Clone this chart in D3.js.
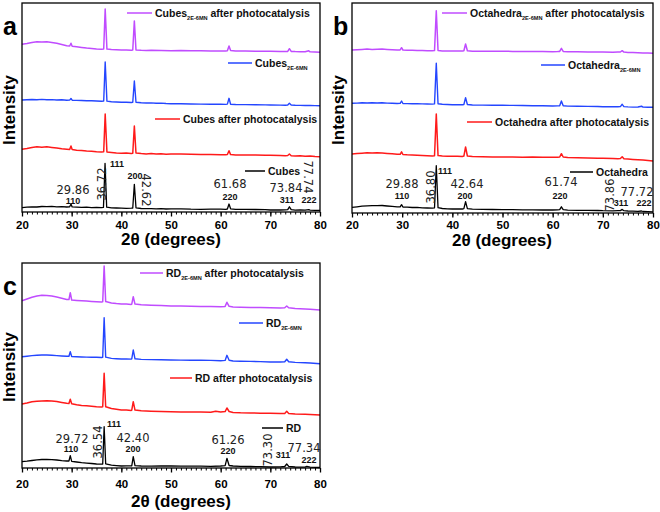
<!DOCTYPE html>
<html><head><meta charset="utf-8">
<script src="https://cdn.jsdelivr.net/npm/d3@7"></script>
<style>body{margin:0;background:#fff}svg{display:block}</style>
</head><body><svg id="c" width="660" height="512"></svg>
<script>
// ---------------- DATA ----------------
const xTicks = [20, 30, 40, 50, 60, 70, 80];

// Panel a : Cubes (2θ, intensity a.u.)
const cubesBare = [[20,4.3],[21,4.8],[22,5.2],[23,5.0],[24,5.5],[25,5.3],[26,5.6],[27,5.1],[28,5.4],[29,5.0],[29.6,5.2],[29.86,8],[30.1,5.1],[31,4.9],[32,4.6],[33,4.8],[34,4.4],[35,4.5],[36,4.3],[36.4,4.6],[36.72,48.7],[37.05,4.8],[38,4.2],[39,4.0],[40,3.9],[41,3.7],[42,3.9],[42.3,4.0],[42.62,27.7],[42.95,4.2],[44,3.5],[45,3.3],[46,3.4],[47,3.1],[48,3.3],[49,3.0],[50,3.1],[52,3.2],[54,2.8],[56,2.7],[58,2.8],[60,2.9],[61,2.7],[61.35,3.0],[61.68,8],[62.0,3.2],[63,2.6],[65,2.6],[67,2.5],[69,2.3],[70,2.0],[72,2.0],[73,2.1],[73.5,2.3],[73.84,5.2],[74.2,2.3],[75,1.9],[76,2.0],[77,1.8],[77.74,2.4],[78,1.9],[79,1.6],[80,1.7]];
const cubesAfter = [[20,62.7],[21,63.5],[22,64.5],[23,65.2],[24,64.8],[25,65.3],[26,64.6],[27,64.0],[28,63.2],[29,62.8],[29.6,62.5],[29.86,66],[30.1,62.4],[31,61.8],[32,61.5],[33,61.0],[34,60.8],[35,60.3],[36,60.0],[36.45,60.2],[36.75,98],[37.1,60.1],[38,59.6],[39,59.0],[40,58.7],[41,58.9],[42,58.5],[42.3,58.8],[42.62,86],[42.95,59],[44,58.4],[45,58.1],[46,58.4],[47,57.9],[48,58.2],[49,57.8],[50,58.0],[52,57.9],[54,57.7],[56,57.6],[58,57.5],[60,57.3],[61,57.2],[61.35,57.5],[61.68,61.3],[62.0,57.4],[63,57.0],[65,57.1],[67,56.9],[69,56.8],[70,56.7],[72,56.6],[73,56.2],[73.5,56.5],[73.84,58],[74.2,56.3],[75,56.0],[76,56.2],[77,55.8],[78,56.1],[79,55.5],[80,55.3]];
const cubes2E = [[20,112],[21,112.2],[22,112.5],[23,112.3],[24,112.6],[25,112.3],[26,112.4],[27,112.0],[28,112.2],[29,111.8],[29.6,111.9],[29.86,113.5],[30.1,111.8],[31,111.6],[32,111.5],[33,111.2],[34,111.3],[35,111.0],[36,110.8],[36.45,111],[36.75,150],[37.1,110.9],[38,110.3],[39,110.0],[40,109.7],[41,109.8],[42,109.5],[42.3,109.7],[42.62,131],[42.95,109.8],[44,109.2],[45,109.0],[46,109.1],[47,108.8],[48,108.9],[49,108.5],[50,108.3],[52,108.2],[54,108.0],[56,107.9],[58,107.8],[60,107.7],[61,107.6],[61.35,107.9],[61.68,113.7],[62.0,107.8],[63,107.5],[65,107.4],[67,107.2],[69,107.1],[70,107.0],[72,106.9],[73,106.8],[73.5,107],[73.84,108.7],[74.2,107],[75,106.7],[76,106.6],[77,106.5],[78,106.5],[79,106.4],[80,106.3]];
const cubes2EAfter = [[20,167.7],[21,168.5],[22,169.5],[23,170.2],[24,170.0],[25,170.3],[26,169.6],[27,168.8],[28,167.5],[29,166.2],[29.6,166],[29.86,168.7],[30.1,165.8],[31,165.2],[32,164.6],[33,164.0],[34,163.6],[35,163.0],[36,162.8],[36.45,163],[36.75,203],[37.1,162.9],[38,162.5],[39,162.2],[40,162.0],[41,162.1],[42,161.8],[42.3,162],[42.62,191],[42.95,162.1],[44,161.7],[45,161.6],[46,161.7],[48,161.5],[50,161.3],[52,161.4],[54,161.2],[56,161.3],[58,161.1],[60,161.0],[61,161.1],[61.35,161.3],[61.68,166],[62.0,161.4],[63,161.0],[65,160.9],[67,160.8],[69,160.8],[70,160.7],[72,160.6],[73,160.5],[73.5,160.6],[73.84,163.3],[74.2,160.6],[75,160.4],[76,160.3],[77,160.2],[77.74,161.2],[78,160.2],[79,159.9],[80,159.7]];

// Panel b : Octahedra
const octBare = [[20,5.7],[21,6.2],[22,6.8],[23,7.2],[24,7.4],[25,7.3],[26,7.5],[27,7.0],[28,6.6],[29,6.2],[29.6,6.1],[29.88,8.3],[30.15,6.0],[31,5.8],[32,5.5],[33,5.6],[34,5.2],[35,5.0],[36,4.9],[36.45,5.2],[36.80,47.3],[37.15,5.3],[38,4.5],[39,4.2],[40,4.0],[41,4.1],[42,4.0],[42.3,4.3],[42.64,11.3],[43.0,4.4],[44,3.8],[46,3.6],[48,3.5],[50,3.3],[52,3.4],[54,3.1],[56,3.2],[58,3.0],[60,3.0],[61,3.1],[61.4,3.3],[61.74,6.2],[62.1,3.3],[63,2.9],[65,2.7],[67,2.6],[69,2.5],[70,2.3],[72,2.2],[73,2.3],[73.5,2.4],[73.86,3.6],[74.2,2.3],[75,2.0],[76,1.8],[77,1.6],[77.72,2.0],[78,1.5],[79,1.3],[80,1.1]];
const octAfter = [[20,59],[21,59.5],[22,59.8],[23,60.2],[24,60],[25,60.3],[26,60.1],[27,59.6],[28,59.2],[29,58.8],[29.6,58.7],[29.88,61.2],[30.15,58.5],[31,58.2],[32,58.0],[33,57.8],[34,57.5],[35,57.3],[36,57.1],[36.45,57.3],[36.8,99],[37.15,57.4],[38,56.9],[39,56.8],[40,56.7],[41,56.8],[42,56.6],[42.3,56.9],[42.64,66],[43.0,57],[44,56.4],[46,56.2],[48,56.1],[50,56.0],[52,55.9],[54,55.8],[56,55.9],[58,55.7],[60,55.7],[61,55.8],[61.4,56],[61.74,59.3],[62.1,56],[63,55.4],[65,55.2],[67,55.0],[69,54.8],[70,54.7],[72,54.4],[73,54.3],[73.5,54.4],[73.86,56.3],[74.2,54.3],[75,54.0],[76,53.6],[77,53.2],[78,52.9],[79,52.5],[80,52]];
const oct2E = [[20,109.7],[21,109.9],[22,110.2],[23,110.0],[24,110.3],[25,110.0],[26,110.2],[27,109.9],[28,109.8],[29,109.5],[29.6,109.6],[29.88,112],[30.15,109.5],[31,109.4],[32,109.3],[33,109.2],[34,109.1],[35,109.0],[36,108.9],[36.45,109.1],[36.8,149.7],[37.15,109.2],[38,108.7],[39,108.5],[40,108.3],[41,108.4],[42,108.2],[42.3,108.5],[42.64,115.3],[43.0,108.5],[44,108.0],[46,107.9],[48,107.8],[50,107.7],[52,107.6],[54,107.5],[56,107.3],[58,107.2],[60,107.0],[61,107.1],[61.4,107.2],[61.74,112],[62.1,107.2],[63,106.9],[65,106.8],[67,106.6],[69,106.5],[70,106.3],[72,106.2],[73,106.3],[73.5,106.4],[73.86,108.7],[74.2,106.4],[75,106.1],[76,105.9],[77,106.0],[77.72,106.8],[78,105.9],[79,105.8],[80,105.7]];
const oct2EAfter = [[20,163],[21,163.3],[22,163.6],[23,163.9],[24,163.6],[25,163.7],[26,163.9],[27,163.5],[28,163.2],[29,163.0],[29.6,163.1],[29.88,165.3],[30.15,163],[31,162.8],[32,162.7],[33,162.6],[34,162.4],[35,162.3],[36,162.2],[36.45,162.4],[36.8,202.3],[37.15,162.5],[38,162.1],[39,162.0],[40,162.0],[41,162.1],[42,161.9],[42.3,162.2],[42.64,169],[43.0,162.2],[44,161.8],[46,161.7],[48,161.8],[50,161.7],[52,161.6],[54,161.5],[56,161.5],[58,161.4],[60,161.3],[61,161.4],[61.4,161.6],[61.74,164.7],[62.1,161.6],[63,161.3],[65,161.2],[67,161.1],[69,161.0],[70,161.0],[72,160.8],[73,160.9],[73.5,161],[73.86,162.3],[74.2,160.9],[75,160.6],[76,160.4],[77,160.3],[78,160.1],[79,159.9],[80,159.7]];

// Panel c : Rhombic dodecahedra
const rdBare = [[20,6.3],[21,6.8],[22,7.5],[23,8.2],[24,8.5],[25,8.7],[26,8.4],[27,8.0],[28,7.4],[29,7.0],[29.45,7.0],[29.72,12.3],[30.0,6.6],[31,6.0],[32,5.3],[33,4.9],[34,4.5],[35,4.0],[36,3.8],[36.25,4.0],[36.54,41.3],[36.85,4.2],[38,2.8],[39,2.4],[40,2.0],[41,2.2],[42,2.1],[42.1,2.2],[42.40,11.3],[42.75,2.4],[44,2.0],[46,1.9],[48,2.0],[50,2.0],[52,1.8],[54,1.9],[56,1.8],[58,1.7],[60,2.0],[60.9,2.3],[61.26,9.7],[61.7,2.5],[62.5,2.0],[64,1.6],[66,1.5],[68,1.4],[70,1.0],[72,1.2],[72.9,1.5],[73.3,4.0],[73.7,1.6],[75,1.0],[77,0.9],[77.34,1.6],[78,0.8],[80,0.5]];
const rdAfter = [[20,64],[21,65],[22,66.2],[23,66.8],[24,67.0],[25,67.3],[26,67.0],[27,66.5],[28,65.6],[29,64.8],[29.45,64.6],[29.72,68.7],[30.0,64.2],[31,63.2],[32,62.6],[33,62.2],[34,61.8],[35,61.3],[36,61.0],[36.25,61.2],[36.54,94.7],[36.85,61.3],[38,59.5],[39,58.7],[40,58.0],[41,57.9],[42,57.6],[42.1,57.8],[42.40,66.3],[42.75,57.9],[44,57.2],[46,56.8],[48,56.5],[50,56.3],[52,56.1],[54,56.0],[56,55.9],[58,55.8],[59,56.8],[60,55.9],[60.9,56.4],[61.26,60],[61.7,56.5],[62.5,55.6],[64,55.2],[66,55.0],[68,54.8],[70,54.7],[72,54.4],[72.9,54.6],[73.3,56.7],[73.7,54.6],[75,54.0],[77,53.7],[78,53.5],[80,53]];
const rd2E = [[20,111.3],[21,111.8],[22,112.4],[23,112.8],[24,113.0],[25,113.0],[26,112.8],[27,112.4],[28,112.0],[29,111.7],[29.45,111.7],[29.72,116.3],[30.0,111.5],[31,111.2],[32,111.0],[33,110.9],[34,110.8],[35,110.7],[36,110.5],[36.25,110.8],[36.54,150.3],[36.85,110.9],[38,109.6],[39,109.3],[40,109.0],[41,109.1],[42,108.9],[42.1,109.1],[42.40,118],[42.75,109.2],[44,108.6],[46,108.4],[48,108.2],[50,108.0],[52,107.9],[54,107.8],[56,107.7],[58,107.6],[60,107.3],[60.9,107.6],[61.26,112.7],[61.7,107.8],[62.5,107.0],[64,106.8],[66,106.6],[68,106.4],[70,106.0],[72,106.0],[72.9,106.3],[73.3,108.7],[73.7,106.3],[75,105.6],[77,105.2],[78,105.0],[80,104.3]];
const rd2EAfter = [[20,167.3],[21,169],[22,170.8],[23,172],[24,172.7],[25,172.5],[26,172.0],[27,171.0],[28,169.8],[29,168.6],[29.45,168.4],[29.72,175.3],[30.0,168.0],[31,167.6],[32,167.2],[33,166.9],[34,166.6],[35,166.3],[36,166.1],[36.25,166.3],[36.54,202],[36.85,166.4],[38,165.0],[39,164.4],[40,164.0],[41,163.9],[42,163.6],[42.1,163.8],[42.40,171.3],[42.75,163.9],[44,163.2],[46,162.8],[48,162.4],[50,162.0],[52,161.9],[54,161.8],[56,161.6],[58,161.5],[60,161.3],[60.9,161.6],[61.26,165.7],[61.7,161.7],[62.5,161.1],[64,160.8],[66,160.6],[68,160.4],[70,160.3],[72,160.1],[72.9,160.3],[73.3,162],[73.7,160.2],[75,159.6],[77,159.0],[78,158.7],[80,158]];

const seriesNamesA = ["Cubes", "Cubes after photocatalysis", "Cubes|2E-6MN|", "Cubes|2E-6MN| after photocatalysis"];
const seriesNamesB = ["Octahedra", "Octahedra after photocatalysis", "Octahedra|2E-6MN|", "Octahedra|2E-6MN| after photocatalysis"];
const seriesNamesC = ["RD", "RD after photocatalysis", "RD|2E-6MN|", "RD|2E-6MN| after photocatalysis"];
const peakValuesA = ["29.86", "36.72", "42.62", "61.68", "73.84", "77.74"];
const peakValuesB = ["29.88", "36.80", "42.64", "61.74", "73.86", "77.72"];
const peakValuesC = ["29.72", "36.54", "42.40", "61.26", "73.30", "77.34"];
const hklLabels = ["110", "111", "200", "220", "311", "222"];

// ---------------- LAYOUT ----------------
const colors = ["#000000", "#ff1a1a", "#2446ff", "#c04cff"];
const widths = [1.3, 1.5, 1.4, 1.5];
const svg = d3.select("#c");
const FONT = "'Liberation Sans', Arial, sans-serif";
const NUMFONT = "'DejaVu Sans', sans-serif";

const panels = [
  { letter: "a", lx: 3, ly: 35, x0: 22, x1: 320, top: 3, bottom: 212, ymax: 209,
    series: [cubesBare, cubesAfter, cubes2E, cubes2EAfter], names: seriesNamesA,
    legend: [[245,265,171],[155,180,119],[228,252,63],[127,152,13]],
    values: peakValuesA,
    valPos: [[73,194,0],[106,184,-90],[142,190,90],[230,188,0],[286,192,0],[304,177,90]],
    hklPos: [[73,204],[117,167],[135,179],[230,200],[287,203],[309,203]],
    tickBase: 229, titleX: 171, titleY: 245, intX: 15, intY: 110 },
  { letter: "b", lx: 333, ly: 35, x0: 352, x1: 653, top: 3, bottom: 213, ymax: 210,
    series: [octBare, octAfter, oct2E, oct2EAfter], names: seriesNamesB,
    legend: [[570,593,172],[467,492,122],[541,565,65],[442,467,13]],
    values: peakValuesB,
    valPos: [[402,188,0],[435,187,-90],[467,188,0],[561,186,0],[614,195,-90],[637,196,0]],
    hklPos: [[402,199],[445,174],[465,199],[560,199],[621,206],[644,206]],
    tickBase: 229, titleX: 502, titleY: 246, intX: 344, intY: 110 },
  { letter: "c", lx: 3, ly: 295, x0: 22, x1: 320, top: 263, bottom: 468, ymax: 205,
    series: [rdBare, rdAfter, rd2E, rd2EAfter], names: seriesNamesC,
    legend: [[262,283,428],[170,192,378],[239,263,323],[140,163,273]],
    values: peakValuesC,
    valPos: [[72,443,0],[102,442,-90],[133,442,0],[228,444,0],[272,450,-90],[304,452,0]],
    hklPos: [[71,452],[114,427],[133,452],[228,454],[283,458],[309,463]],
    tickBase: 488, titleX: 181, titleY: 507, intX: 15, intY: 367 }
];

function addLabel(g, x, y, name) {
  const parts = name.split("|");
  const t = g.append("text").attr("x", x).attr("y", y)
    .attr("font-family", FONT).attr("font-weight", "bold").attr("font-size", 10.5).attr("fill", "#111");
  t.append("tspan").text(parts[0]);
  if (parts.length > 1) {
    t.append("tspan").attr("font-size", 5.6).attr("dy", 3).text(parts[1]);
    t.append("tspan").attr("dy", -3).text(parts[2]);
  }
}

panels.forEach(p => {
  const x = d3.scaleLinear().domain([20, 80]).range([p.x0, p.x1]);
  const y = d3.scaleLinear().domain([0, p.ymax]).range([p.bottom, p.top]);
  const g = svg.append("g");

  // traces
  const line = d3.line().x(d => x(d[0])).y(d => y(d[1]));
  p.series.forEach((s, i) => {
    g.append("path").datum(s).attr("d", line).attr("fill", "none")
      .attr("stroke", colors[i]).attr("stroke-width", widths[i]).attr("stroke-linejoin", "round");
  });

  // frame
  g.append("rect").attr("x", p.x0).attr("y", p.top).attr("width", p.x1 - p.x0).attr("height", p.bottom - p.top)
    .attr("fill", "none").attr("stroke", "#000").attr("stroke-width", 1.3);

  // x axis
  const ax = g.append("g").attr("transform", `translate(0,${p.bottom})`)
    .call(d3.axisBottom(x).tickValues(d3.range(20, 81, 1)).tickSize(2.5).tickFormat(""));
  ax.select(".domain").remove();
  ax.selectAll("line").attr("stroke-width", 1);
  const ax2 = g.append("g").attr("transform", `translate(0,${p.bottom})`)
    .call(d3.axisBottom(x).tickValues(xTicks).tickSize(4.5).tickPadding(5).tickFormat(d3.format("d")));
  ax2.select(".domain").remove();
  ax2.selectAll("line").attr("stroke-width", 1.3);
  ax2.selectAll("text").attr("font-family", FONT).attr("font-weight", "bold").attr("font-size", 11.5)
    .attr("fill", "#000").attr("dy", null).attr("y", p.tickBase - p.bottom);

  // titles
  svg.append("text").attr("x", p.titleX).attr("y", p.titleY).attr("text-anchor", "middle")
    .attr("font-family", FONT).attr("font-weight", "bold").attr("font-size", 17).text("2θ (degrees)");
  svg.append("text").attr("transform", `translate(${p.intX},${p.intY}) rotate(-90)`).attr("text-anchor", "middle")
    .attr("font-family", FONT).attr("font-weight", "bold").attr("font-size", 17).text("Intensity");
  svg.append("text").attr("x", p.lx).attr("y", p.ly).attr("font-family", FONT).attr("font-weight", "bold")
    .attr("font-size", 25).text(p.letter);

  // legends
  p.legend.forEach((l, i) => {
    g.append("line").attr("x1", l[0]).attr("x2", l[1]).attr("y1", l[2]).attr("y2", l[2])
      .attr("stroke", colors[i]).attr("stroke-width", 1.5);
    addLabel(g, l[1] + 3, l[2] + 4, p.names[i]);
  });

  // peak value annotations
  p.values.forEach((v, i) => {
    const [px, py, rot] = p.valPos[i];
    g.append("text").attr("transform", `translate(${px},${py}) rotate(${rot})`).attr("text-anchor", "middle")
      .attr("font-family", NUMFONT).attr("font-size", 11.5).attr("fill", "#222").text(v);
  });
  hklLabels.forEach((h, i) => {
    const [hx, hy] = p.hklPos[i];
    g.append("text").attr("x", hx).attr("y", hy).attr("text-anchor", "middle")
      .attr("font-family", FONT).attr("font-weight", "bold").attr("font-size", 9).attr("fill", "#111").text(h);
  });
});
</script>
</body></html>
